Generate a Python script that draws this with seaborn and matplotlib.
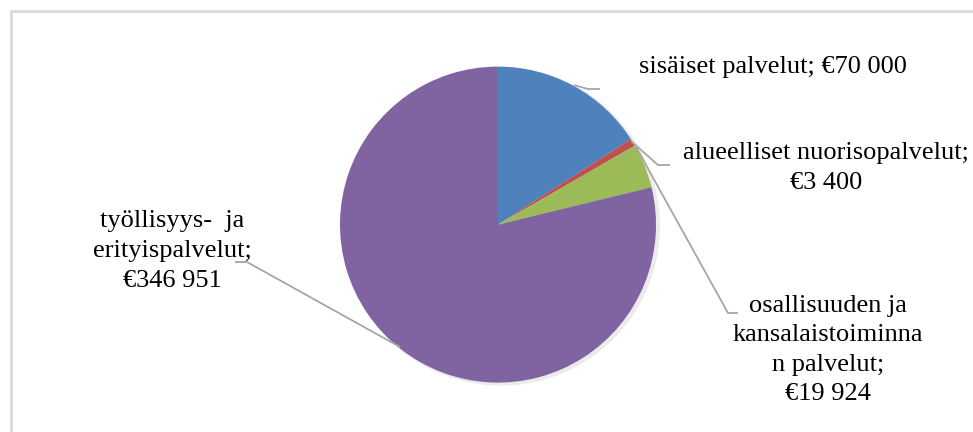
import matplotlib
matplotlib.use("Agg")
import matplotlib.pyplot as plt
import seaborn as sns

categories = ["sisäiset palvelut", "alueelliset nuorisopalvelut",
              "osallisuuden ja kansalaistoiminnan palvelut", "työllisyys- ja erityispalvelut"]
values = [70000, 3400, 19924, 346951]
labels = ["sisäiset palvelut; €70 000",
          "alueelliset nuorisopalvelut;\n€3 400",
          "osallisuuden ja\nkansalaistoiminna\nn palvelut;\n€19 924",
          "työllisyys-  ja\nerityispalvelut;\n€346 951"]
colors = ["#4F81BD", "#C0504D", "#9BBB59", "#8064A2"]

sns.set_style("white")
plt.rcParams["font.family"] = ["Liberation Serif", "DejaVu Serif"]

W, H = 973, 432
fig = plt.figure(figsize=(W / 100, H / 100), dpi=100)
ax = fig.add_axes([0, 0, 1, 1])

def Y(y):
    return H - y

cx, cy, r = 498, 224.6, 158

# subtle shadow
shadow = plt.Circle((cx + 3, Y(cy) - 2), r + 1, color="#000000", alpha=0.08, lw=0, zorder=1)
ax.add_patch(shadow)

ax.pie(values, colors=colors, startangle=90, counterclock=False,
       center=(cx, Y(cy)), radius=r, frame=True,
       wedgeprops=dict(linewidth=0, zorder=2))
ax.set_xlim(0, W)
ax.set_ylim(0, H)
ax.set_aspect("equal")
ax.axis("off")

lc = "#A6A6A6"
fs = 19
# leader lines (pixel coords)
leaders = [
    [(574, 85), (588, 89), (600, 89)],
    [(631, 141), (658, 165), (670, 165)],
    [(636, 147), (728, 313), (738, 313)],
    [(400, 347), (247, 262), (235, 262)],
]
for pts in leaders:
    xs = [p[0] for p in pts]
    ys = [Y(p[1]) for p in pts]
    ax.plot(xs, ys, color=lc, lw=1.3, zorder=3, solid_capstyle="butt")

text_pos = [(773, 67), (826, 168), (828, 350), (172, 251)]
for (tx, ty), lab in zip(text_pos, labels):
    ax.text(tx, Y(ty), lab, ha="center", va="center", fontsize=fs,
            color="#000000", linespacing=1.45, zorder=4)

# chart border (top and left visible)
ax.plot([10.5, W], [Y(11), Y(11)], color="#D9D9D9", lw=2, zorder=0)
ax.plot([10.5, 10.5], [Y(11), 0], color="#D9D9D9", lw=2, zorder=0)

fig.savefig("out.png", dpi=100)
